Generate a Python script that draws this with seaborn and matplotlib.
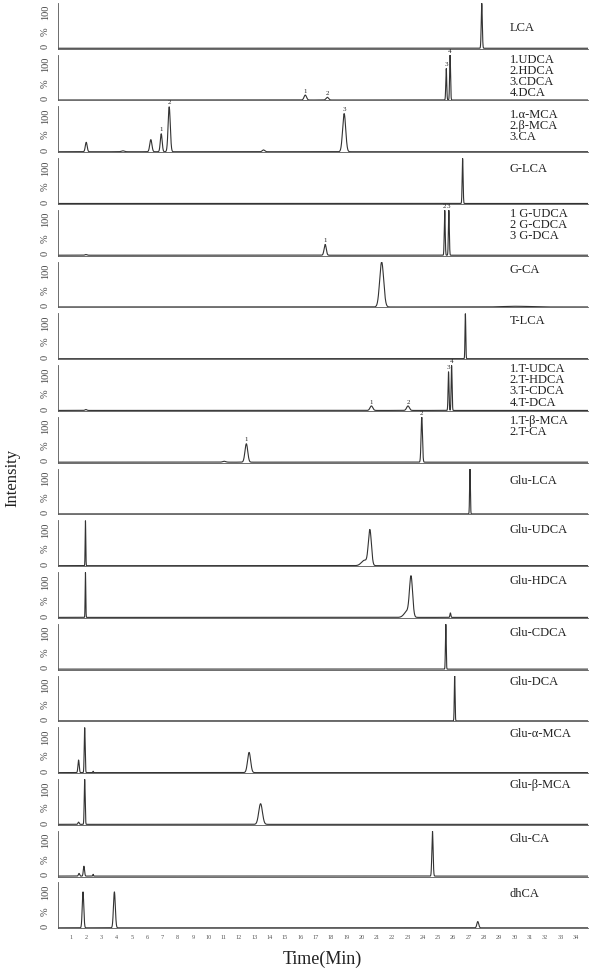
import matplotlib
matplotlib.use("Agg")
import matplotlib.pyplot as plt
import numpy as np
import pandas as pd
import seaborn as sns

# one entry per stacked trace, top to bottom
PANEL_LABELS = [
    "LCA",
    "1.UDCA\n2.HDCA\n3.CDCA\n4.DCA",
    "1.α-MCA\n2.β-MCA\n3.CA",
    "G-LCA",
    "1 G-UDCA\n2 G-CDCA\n3 G-DCA",
    "G-CA",
    "T-LCA",
    "1.T-UDCA\n2.T-HDCA\n3.T-CDCA\n4.T-DCA",
    "1.T-β-MCA\n2.T-CA",
    "Glu-LCA",
    "Glu-UDCA",
    "Glu-HDCA",
    "Glu-CDCA",
    "Glu-DCA",
    "Glu-α-MCA",
    "Glu-β-MCA",
    "Glu-CA",
    "dhCA",
]

# retention time (min) of each peak
PEAK_TIMES = [
    [27.86],
    [16.33, 17.77, 25.54, 25.79],
    [2.02, 4.42, 6.24, 6.92, 7.44, 13.6, 18.87],
    [26.61],
    [2.0, 17.63, 25.44, 25.71],
    [21.32, 30.1],
    [26.79],
    [2.0, 20.65, 23.04, 25.69, 25.89],
    [11.03, 12.48, 23.94],
    [27.09],
    [1.97, 20.2, 20.55],
    [1.97, 23.0, 23.24, 25.81],
    [25.51],
    [26.09],
    [1.52, 1.92, 2.47, 12.66],
    [1.52, 1.92, 13.41],
    [1.55, 1.87, 2.47, 24.64],
    [1.81, 3.86, 27.6],
]

# relative intensity (%) of each peak
PEAK_HEIGHTS = [
    [100],
    [11, 6, 70, 100],
    [21, 2, 27, 40, 100, 4, 85],
    [100],
    [1.5, 24, 100, 100],
    [100, 1.5],
    [100],
    [2, 10, 10, 86, 100],
    [2, 41, 100],
    [100],
    [100, 12, 78],
    [100, 14, 86, 10],
    [100],
    [100],
    [28, 100, 3, 45],
    [5, 100, 46],
    [6, 22, 4, 100],
    [80, 80, 14],
]

# peak sigma (min)
PEAK_WIDTHS = [
    [0.035],
    [0.08, 0.08, 0.03, 0.03],
    [0.06, 0.1, 0.07, 0.06, 0.07, 0.08, 0.1],
    [0.03],
    [0.06, 0.07, 0.03, 0.03],
    [0.13, 0.8],
    [0.025],
    [0.06, 0.09, 0.09, 0.03, 0.03],
    [0.1, 0.09, 0.045],
    [0.025],
    [0.02, 0.2, 0.1],
    [0.02, 0.2, 0.1, 0.03],
    [0.025],
    [0.025],
    [0.04, 0.03, 0.02, 0.1],
    [0.04, 0.03, 0.12],
    [0.04, 0.04, 0.02, 0.04],
    [0.05, 0.06, 0.06],
]

# numbers printed over peaks
PEAK_TAGS = [
    [""],
    ["1", "2", "3", "4"],
    ["", "", "", "1", "2", "", "3"],
    [""],
    ["", "1", "2", "3"],
    ["", ""],
    [""],
    ["", "1", "2", "3", "4"],
    ["", "1", "2"],
    [""],
    ["", "", ""],
    ["", "", "", ""],
    [""],
    [""],
    ["", "", "", ""],
    ["", "", ""],
    ["", "", "", ""],
    ["", "", ""],
]

X_TICKS = list(range(1, 35))

# vertical spot (axes fraction) of the top of each name label
LABEL_Y = [0.58, 1.01, 0.94, 0.89, 1.04, 0.94, 0.96, 1.04, 1.04, 0.86,
           0.91, 0.93, 0.93, 0.98, 0.98, 1.01, 0.96, 0.87]

LINE = "#333333"
TEXT = "#222222"


def trace(times, heights, widths, grid):
    signal = np.zeros_like(grid)
    for t0, h, w in zip(times, heights, widths):
        signal += h * np.exp(-0.5 * ((grid - t0) / w) ** 2)
    return signal


def main() -> None:
    sns.set_style("white")
    plt.rcParams["font.family"] = ["Liberation Serif", "DejaVu Serif"]

    grid = np.linspace(0, 34.8, 7000)
    n = len(PANEL_LABELS)
    fig, axes = plt.subplots(n, 1, figsize=(6, 9.71), dpi=100, sharex=True,
                             gridspec_kw={"hspace": 0.13})
    fig.subplots_adjust(left=0.096, right=0.98, top=0.997, bottom=0.044)

    for i, ax in enumerate(axes):
        frame = pd.DataFrame({
            "time": grid,
            "intensity": trace(PEAK_TIMES[i], PEAK_HEIGHTS[i], PEAK_WIDTHS[i], grid),
        })
        sns.lineplot(data=frame, x="time", y="intensity", ax=ax, color=LINE,
                     linewidth=0.8, estimator=None, sort=False)
        ax.set_xlim(0.15, 34.8)
        ax.set_ylim(-1, 101)
        ax.set_xlabel("")
        ax.set_ylabel("")
        sns.despine(ax=ax)
        for side in ["left", "bottom"]:
            ax.spines[side].set_linewidth(0.6)
            ax.spines[side].set_color("#555555")

        ax.set_yticks([3, 37, 79])
        ax.set_yticklabels(["0", "%", "100"], rotation=90, va="center",
                           fontsize=7.5, color="#444444")
        ax.tick_params(axis="y", length=1.5, width=0.6, pad=4, color="#555555")
        ax.set_xticks(X_TICKS)
        ax.tick_params(axis="x", length=1.5, width=0.5, color="#777777",
                       labelsize=4.5, labelcolor="#555555", pad=3)

        for t0, h, tag in zip(PEAK_TIMES[i], PEAK_HEIGHTS[i], PEAK_TAGS[i]):
            if tag:
                ax.text(t0, h + 3, tag, ha="center", va="bottom", fontsize=5,
                        color=TEXT, clip_on=False)

        ax.text(0.852, LABEL_Y[i], PANEL_LABELS[i], transform=ax.transAxes,
                ha="left", va="top", fontsize=9, color=TEXT, linespacing=0.9)

    axes[-1].set_xticklabels([str(v) for v in X_TICKS])

    fig.text(0.02, 0.508, "Intensity", rotation=90, ha="center", va="center",
             fontsize=12, color=TEXT)
    fig.text(0.538, 0.0125, "Time(Min)", ha="center", va="center",
             fontsize=13, color=TEXT)

    fig.savefig("out.png", dpi=100)
    plt.close(fig)


if __name__ == "__main__":
    main()
